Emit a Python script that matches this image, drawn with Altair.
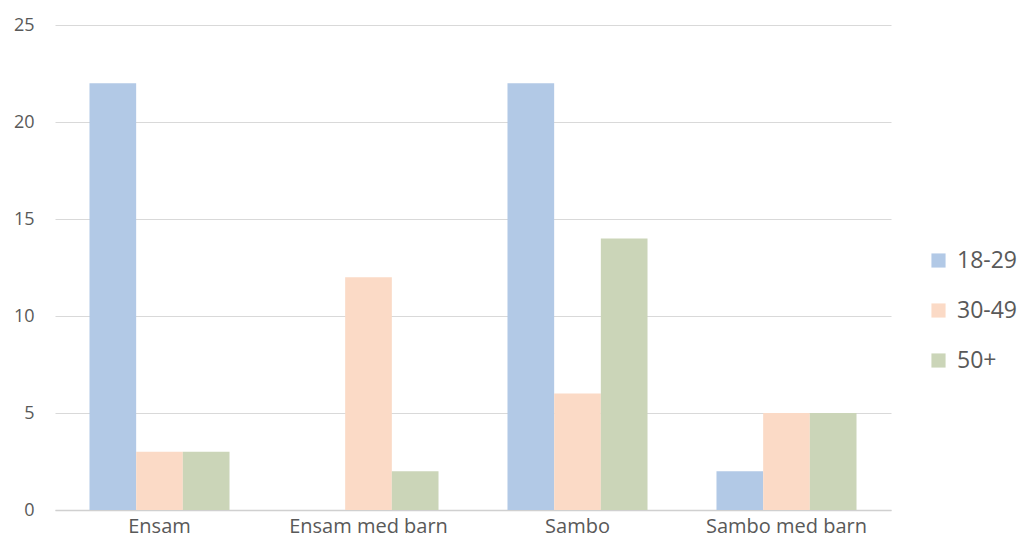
import altair as alt
import pandas as pd

categories = ["Ensam", "Ensam med barn", "Sambo", "Sambo med barn"]
series = ["18-29", "30-49", "50+"]
values_18_29 = [22, 0, 22, 2]
values_30_49 = [3, 12, 6, 5]
values_50 = [3, 2, 14, 5]
colors = ["#b2c9e6", "#fbdac6", "#cbd5b8"]

rows = []
for s, vals in zip(series, [values_18_29, values_30_49, values_50]):
    for c, v in zip(categories, vals):
        rows.append({"kategori": c, "ålder": s, "antal": v})
df = pd.DataFrame(rows)

chart = alt.Chart(df).mark_bar().encode(
    x=alt.X("kategori:N", sort=categories, title=None,
            scale=alt.Scale(paddingInner=0.33, paddingOuter=0.165),
            axis=alt.Axis(labelAngle=0, labelFontSize=20, labelColor="#595959",
                          labelFont="Open Sans", labelPadding=6, ticks=False,
                          domainColor="#d0d0d0", domainWidth=1.5)),
    xOffset=alt.XOffset("ålder:N", sort=series),
    y=alt.Y("antal:Q", title=None,
            scale=alt.Scale(domain=[0, 25]),
            axis=alt.Axis(values=[0, 5, 10, 15, 20, 25], labelFontSize=18,
                          labelColor="#595959", labelFont="Open Sans",
                          labelPadding=21, ticks=False, domain=False,
                          gridColor="#d9d9d9", minExtent=40, maxExtent=40)),
    color=alt.Color("ålder:N", sort=series,
                    scale=alt.Scale(domain=series, range=colors),
                    legend=alt.Legend(title=None, orient="none", legendX=872,
                                      legendY=224, labelFontSize=23,
                                      labelColor="#595959", labelFont="Open Sans",
                                      symbolType="square", symbolSize=200,
                                      symbolStrokeWidth=0, rowPadding=26,
                                      labelOffset=7)),
).properties(
    width=836, height=485,
    padding={"left": 5, "top": 8, "right": 0, "bottom": 5}
).configure_view(stroke=None)

chart.save("out.html", embed_options={"renderer": "svg", "actions": False})
